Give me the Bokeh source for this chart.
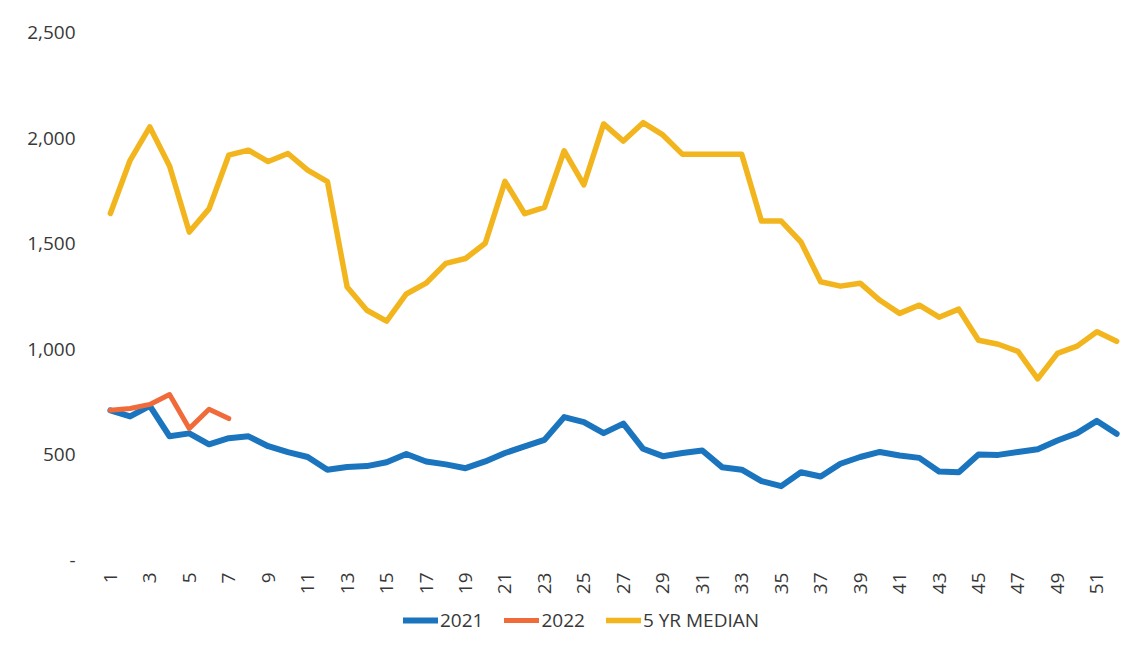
import math
from bokeh.plotting import figure
from bokeh.models import Range1d, FixedTicker, Legend, LegendItem
from bokeh.embed import file_html
from bokeh.resources import INLINE

weeks = list(range(1, 53))
y2021 = [711, 682, 732, 588, 602, 550, 579, 588, 541, 513, 490, 430, 443, 447, 465,
         504, 469, 455, 437, 469, 509, 540, 571, 679, 655, 603, 648, 529, 494, 509,
         521, 442, 430, 376, 352, 418, 398, 458, 490, 514, 497, 486, 421, 418, 502,
         500, 514, 527, 568, 603, 661, 600]
weeks2022 = [1, 2, 3, 4, 5, 6, 7]
y2022 = [711, 720, 739, 786, 625, 716, 672]
median5 = [1643, 1895, 2053, 1868, 1555, 1665, 1919, 1943, 1889, 1927, 1848, 1794,
           1295, 1185, 1133, 1262, 1313, 1407, 1430, 1502, 1795, 1642, 1672, 1940,
           1779, 2067, 1986, 2073, 2015, 1923, 1923, 1923, 1923, 1607, 1607, 1508,
           1320, 1299, 1313, 1232, 1170, 1209, 1152, 1190, 1043, 1024, 990, 860,
           981, 1015, 1083, 1038]
y_ticks = [0, 500, 1000, 1500, 2000, 2500]
y_tick_labels = ["-", "500", "1,000", "1,500", "2,000", "2,500"]
x_ticks = list(range(1, 52, 2))
series_names = ["2021", "2022", "5 YR MEDIAN"]
colors = ["#1B75BE", "#F06A3A", "#F2B51E"]

FONT = "Open Sans"
TEXT_COLOR = "#383838"
FONT_SIZE = "19px"

# frame: 32px top border, plot values 0..2500 take 528px, leaving room below
# for the rotated week labels and the legend inside the frame
FRAME_H = 608
Y_MAX = 2500
Y_MIN = Y_MAX - Y_MAX * FRAME_H / 528.0

p = figure(width=1142, height=648, output_backend="svg", toolbar_location=None,
           x_range=Range1d(0.5, 52.5), y_range=Range1d(Y_MIN, Y_MAX),
           min_border_left=100, min_border_right=16, min_border_top=32, min_border_bottom=8)
p.outline_line_color = None
p.xgrid.grid_line_color = None
p.ygrid.grid_line_color = None
p.background_fill_color = "white"
p.border_fill_color = "white"

r1 = p.line(weeks, y2021, line_color=colors[0], line_width=6, line_join="round", line_cap="round")
r2 = p.line(weeks2022, y2022, line_color=colors[1], line_width=5, line_join="round", line_cap="round")
r3 = p.line(weeks, median5, line_color=colors[2], line_width=5.5, line_join="round", line_cap="round")

# axes
p.yaxis.ticker = FixedTicker(ticks=y_ticks)
p.yaxis.major_label_overrides = {t: l for t, l in zip(y_ticks, y_tick_labels)}
p.xaxis.ticker = FixedTicker(ticks=x_ticks)
p.xaxis.major_label_orientation = math.pi / 2
p.xaxis.fixed_location = 0
for ax in (p.xaxis, p.yaxis):
    ax.axis_line_color = None
    ax.major_tick_line_color = None
    ax.minor_tick_line_color = None
    ax.major_tick_in = 0
    ax.major_tick_out = 0
    ax.major_label_text_font = FONT
    ax.major_label_text_font_size = FONT_SIZE
    ax.major_label_text_color = TEXT_COLOR
p.yaxis.major_label_standoff = 25
p.xaxis.major_label_standoff = 12

legend = Legend(items=[LegendItem(label=series_names[0], renderers=[r1]),
                       LegendItem(label=series_names[1], renderers=[r2]),
                       LegendItem(label=series_names[2], renderers=[r3])],
                location=(303, 7), orientation="horizontal",
                glyph_width=35, glyph_height=20, label_standoff=2, spacing=21,
                padding=0, margin=0, border_line_color=None, background_fill_alpha=0,
                label_text_font=FONT, label_text_font_size=FONT_SIZE,
                label_text_color=TEXT_COLOR)
p.add_layout(legend, "center")

open("out.html", "w").write(file_html(p, INLINE))
